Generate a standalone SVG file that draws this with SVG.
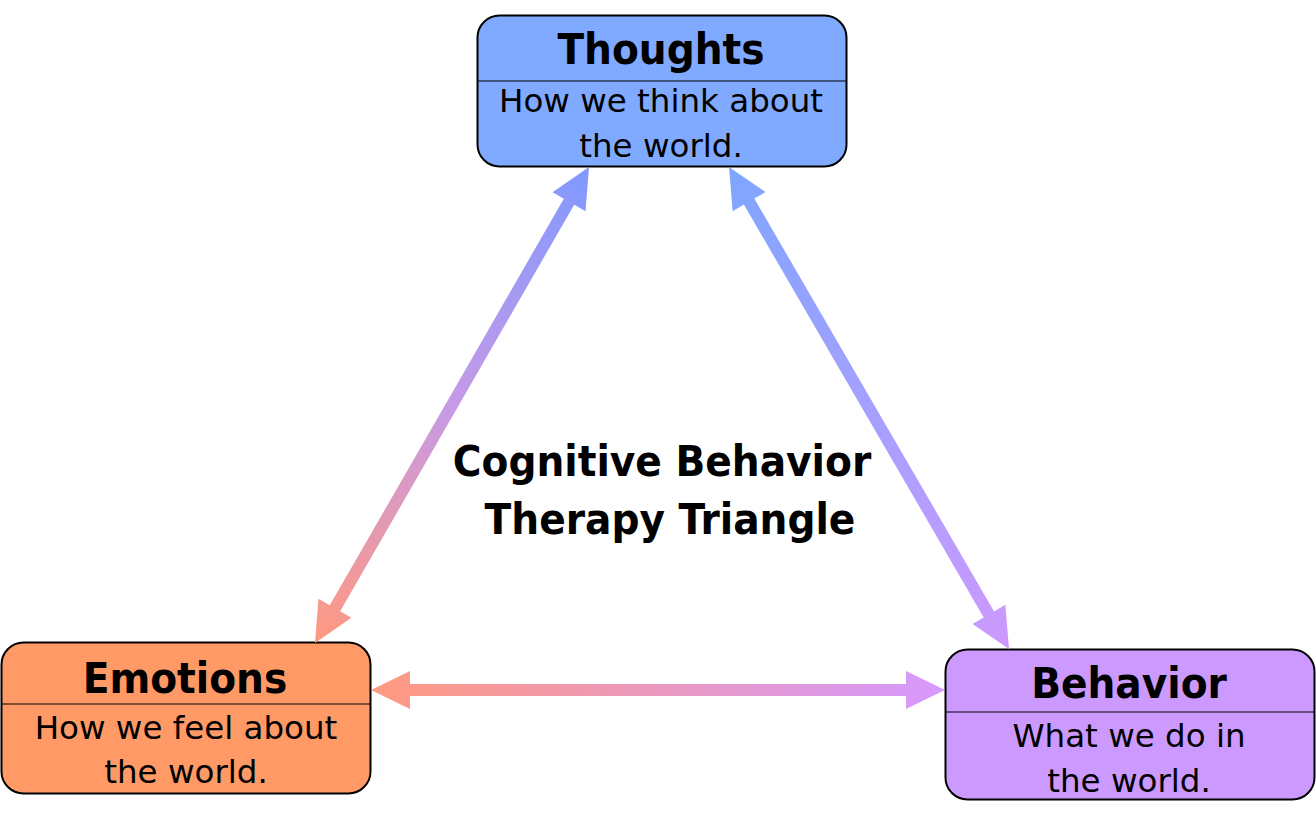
<svg xmlns="http://www.w3.org/2000/svg" width="1316" height="824" viewBox="0 0 1316 824">
<style>
.box{stroke:#000;stroke-width:2}
.div{stroke:#000;stroke-width:1.2}
.t{font-family:"DejaVu Sans Condensed","DejaVu Sans",sans-serif;font-weight:bold;font-size:43.5px;fill:#000;text-anchor:middle}
.s{font-family:"DejaVu Sans",sans-serif;font-size:32.5px;fill:#000;text-anchor:middle}
</style>
<defs>
<linearGradient id="gL" gradientUnits="userSpaceOnUse" x1="589" y1="167" x2="315" y2="643"><stop offset="0" stop-color="#8099FF"/><stop offset="0.5" stop-color="#C69AE6"/><stop offset="1" stop-color="#FF9980"/></linearGradient>
<linearGradient id="gR" gradientUnits="userSpaceOnUse" x1="729" y1="167" x2="1009" y2="649"><stop offset="0" stop-color="#7FA6FF"/><stop offset="1" stop-color="#CC99FF"/></linearGradient>
<linearGradient id="gB" gradientUnits="userSpaceOnUse" x1="371" y1="690" x2="945" y2="690"><stop offset="0" stop-color="#FF9980"/><stop offset="1" stop-color="#D699FF"/></linearGradient>
</defs>
<rect width="1316" height="824" fill="#fff"/>
<g id="thoughts">
<rect class="box" x="477.5" y="15.5" width="369" height="151" rx="22" fill="#80AAFF"/>
<line class="div" x1="478" y1="81" x2="846" y2="81"/>
<text class="t" x="661" y="64">Thoughts</text>
<text class="s" x="661" y="112">How we think about</text>
<text class="s" x="661" y="157">the world.</text>
</g>
<g id="emotions">
<rect class="box" x="1.5" y="642.5" width="369" height="151" rx="22" fill="#FF9966"/>
<line class="div" x1="2" y1="704" x2="370" y2="704"/>
<text class="t" x="185" y="693">Emotions</text>
<text class="s" x="186" y="739">How we feel about</text>
<text class="s" x="186" y="783">the world.</text>
</g>
<g id="behavior">
<rect class="box" x="945.5" y="649.5" width="369" height="150" rx="22" fill="#CC99FF"/>
<line class="div" x1="946" y1="712" x2="1314" y2="712"/>
<text class="t" x="1129" y="698">Behavior</text>
<text class="s" x="1129" y="747">What we do in</text>
<text class="s" x="1129" y="792">the world.</text>
</g>
<g id="title">
<text class="t" x="662" y="476">Cognitive Behavior</text>
<text class="t" x="670" y="534">Therapy Triangle</text>
</g>
<g id="connectors">
<polygon fill="url(#gL)" points="589,167 585.51,211.15 574.24,204.66 340.16,611.32 351.43,617.81 315,643 318.49,598.85 329.76,605.34 563.84,198.68 552.57,192.19"/>
<polygon fill="url(#gR)" points="729,167 732.66,211.13 743.90,204.60 983.72,617.42 972.48,623.95 1009,649 1005.34,604.87 994.10,611.40 754.28,198.58 765.52,192.05"/>
<polygon fill="url(#gB)" points="371,690 410,671 410,684 906,684 906,671 945,690 906,709 906,696 410,696 410,709"/>
</g>
</svg>
